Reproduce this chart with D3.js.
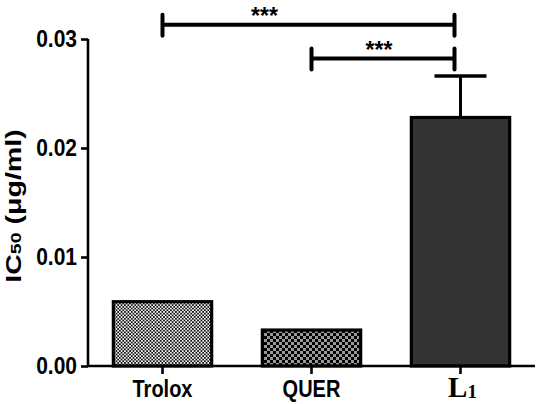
<!DOCTYPE html>
<html><head><meta charset="utf-8">
<script src="https://cdn.jsdelivr.net/npm/d3@7"></script>
<style>body{margin:0;background:#fff}svg{display:block}</style>
</head><body>
<svg id="c" width="542" height="404"></svg>
<script>
const categories = ["Trolox", "QUER", "L1"];
const values = [0.0059, 0.0033, 0.0228];
const errorsUp = [0, 0, 0.0038];
const yTicks = [0.00, 0.01, 0.02, 0.03];
const sigPairs = [["Trolox", "L1"], ["QUER", "L1"]];
const sigLevels = [0.0313, 0.0282];
const sigLabels = ["***", "***"];

const svg = d3.select("#c");
const W = 542, H = 404;
const m = {left: 88, right: 7, top: 39, bottom: 38};
const x = d3.scaleBand().domain(categories).range([m.left, W - m.right]).paddingInner(0.32).paddingOuter(0.16);
const y = d3.scaleLinear().domain([0, 0.03]).range([H - m.bottom, m.top]);

const defs = svg.append("defs");
const p1 = defs.append("pattern").attr("id", "pTrolox").attr("patternUnits", "userSpaceOnUse").attr("width", 3.4).attr("height", 3.4);
p1.append("rect").attr("width", 3.4).attr("height", 3.4).attr("fill", "#f4f4f4");
p1.append("rect").attr("width", 1.7).attr("height", 1.7).attr("fill", "#111");
p1.append("rect").attr("x", 1.7).attr("y", 1.7).attr("width", 1.7).attr("height", 1.7).attr("fill", "#111");
const p2 = defs.append("pattern").attr("id", "pQuer").attr("patternUnits", "userSpaceOnUse").attr("width", 6).attr("height", 6);
p2.append("rect").attr("width", 6).attr("height", 6).attr("fill", "#999");
p2.append("rect").attr("width", 3).attr("height", 3).attr("fill", "#000");
p2.append("rect").attr("x", 3).attr("y", 3).attr("width", 3).attr("height", 3).attr("fill", "#000");
const fills = ["url(#pTrolox)", "url(#pQuer)", "#333333"];

// error bars (upper only)
const eg = svg.append("g");
categories.forEach((c, i) => {
  if (!errorsUp[i]) return;
  const cx = x(c) + x.bandwidth() / 2;
  eg.append("line").attr("x1", cx).attr("x2", cx).attr("y1", y(values[i])).attr("y2", y(values[i] + errorsUp[i]))
    .attr("stroke", "#000").attr("stroke-width", 3);
  eg.append("line").attr("x1", cx - 26).attr("x2", cx + 26).attr("y1", y(values[i] + errorsUp[i])).attr("y2", y(values[i] + errorsUp[i]))
    .attr("stroke", "#000").attr("stroke-width", 3.5);
});

// bars
svg.append("g").selectAll("rect").data(categories).join("rect")
  .attr("x", d => x(d) + 1.5)
  .attr("width", x.bandwidth() - 3)
  .attr("y", (d, i) => y(values[i]))
  .attr("height", (d, i) => y(0) - y(values[i]))
  .attr("fill", (d, i) => fills[i])
  .attr("stroke", "#000").attr("stroke-width", 3.2);

// axes
const yAxis = svg.append("g").attr("transform", `translate(${m.left},0)`)
  .call(d3.axisLeft(y).tickValues(yTicks).tickFormat(d3.format(".2f")).tickSize(7).tickSizeOuter(0).tickPadding(4));
yAxis.select(".domain").attr("stroke-width", 2.6).attr("d", `M0,${y(0)}V${y(0.03)}`);
yAxis.selectAll(".tick line").attr("stroke-width", 2.6);
yAxis.selectAll(".tick text")
  .attr("transform", "scale(1,1.14)").attr("y", 0).attr("dy", "0.32em")
  .attr("font-family", "Liberation Sans, Arial, sans-serif").attr("font-weight", "bold").attr("font-size", 21).attr("fill", "#000");

const xAxis = svg.append("g").attr("transform", `translate(0,${y(0)})`)
  .call(d3.axisBottom(x).tickSize(8).tickSizeOuter(0).tickFormat(""));
xAxis.select(".domain").attr("stroke-width", 2.6).attr("d", `M${m.left},0H${W - m.right}`);
xAxis.selectAll(".tick line").attr("stroke-width", 2.6);

// x labels
categories.forEach((c, i) => {
  const cx = x(c) + x.bandwidth() / 2;
  if (c === "L1") {
    const t = svg.append("text").attr("x", cx + 2).attr("y", 397).attr("text-anchor", "middle")
      .attr("font-family", "Liberation Serif, Times New Roman, serif").attr("font-weight", "bold").attr("font-size", 29);
    t.append("tspan").text("L");
    t.append("tspan").attr("font-size", 19).attr("dy", 1).text("1");
  } else {
    svg.append("text").attr("transform", `translate(${cx},397) scale(1,1.15)`).attr("text-anchor", "middle")
      .attr("font-family", "Liberation Sans, Arial, sans-serif").attr("font-weight", "bold").attr("font-size", 20).text(c);
  }
});

// y label
const yl = svg.append("text").attr("transform", `translate(21,206) rotate(-90) scale(1.3,1)`).attr("text-anchor", "middle")
  .attr("font-family", "Liberation Sans, Arial, sans-serif").attr("font-weight", "bold").attr("font-size", 22);
yl.append("tspan").text("IC");
yl.append("tspan").attr("font-size", 15).text("50");
yl.append("tspan").text(" (μg/ml)");

// significance brackets
const sg = svg.append("g");
const starOffsets = [-44, -4];
sigPairs.forEach((pr, i) => {
  const x1 = x(pr[0]) + x.bandwidth() / 2;
  const x2 = x(pr[1]) + x.bandwidth() / 2 - 6;
  const yy = y(sigLevels[i]);
  sg.append("line").attr("x1", x1).attr("x2", x2).attr("y1", yy).attr("y2", yy).attr("stroke", "#000").attr("stroke-width", 4);
  [x1, x2].forEach(xx => sg.append("line").attr("x1", xx).attr("x2", xx).attr("y1", yy - 10).attr("y2", yy + 11)
    .attr("stroke", "#000").attr("stroke-width", 4).attr("stroke-linecap", "round"));
  sg.append("text").attr("x", (x1 + x2) / 2 + starOffsets[i]).attr("y", yy - 1).attr("text-anchor", "middle")
    .attr("font-family", "Liberation Sans, Arial, sans-serif").attr("font-weight", "bold").attr("font-size", 23).text(sigLabels[i]);
});
</script>
</body></html>
